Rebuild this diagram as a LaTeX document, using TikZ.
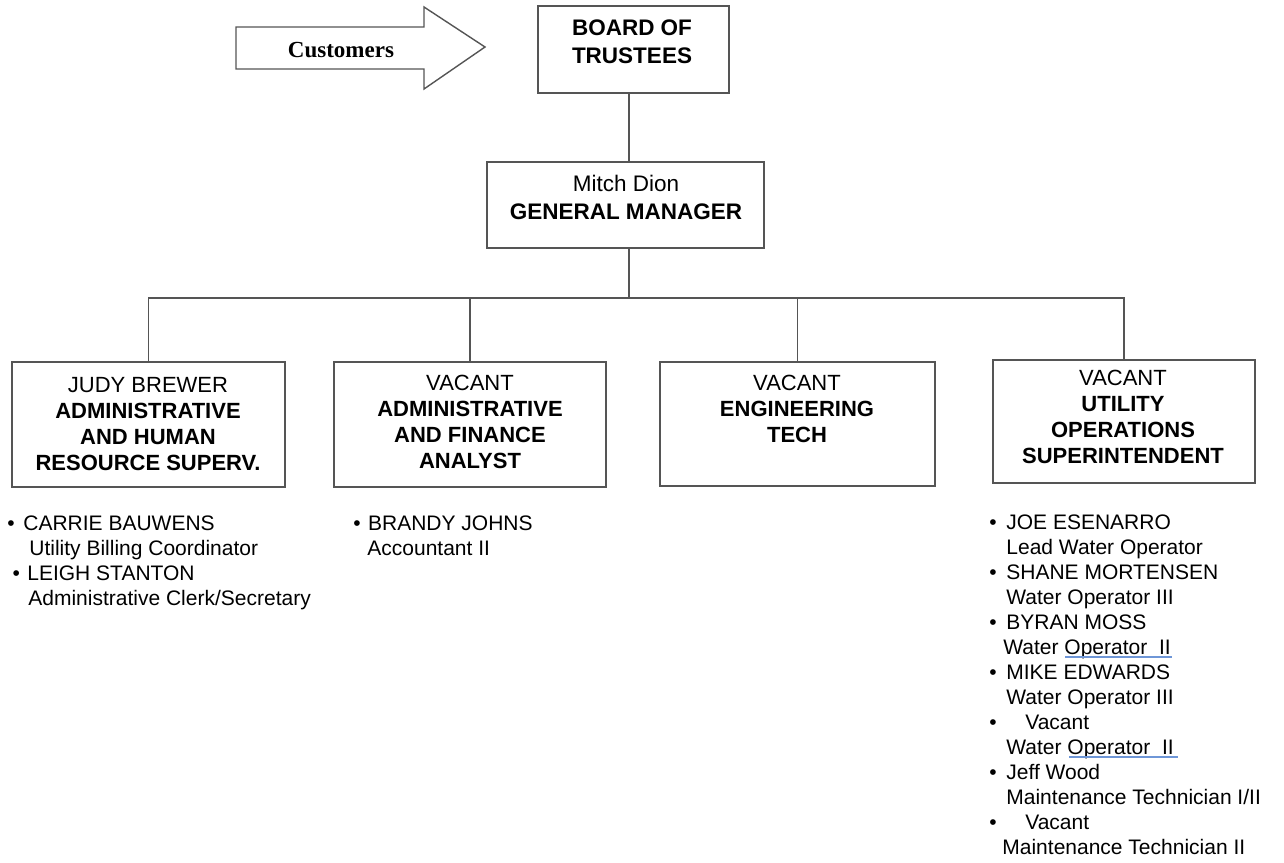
\documentclass[tikz,border=0pt]{standalone}
\usepackage{fontspec}
\setmainfont{Liberation Sans}
\newfontfamily\custfont{Liberation Serif}
\usetikzlibrary{positioning}
\definecolor{linegray}{RGB}{85,85,85}
\definecolor{spellblue}{RGB}{110,150,215}
\newcommand{\itm}{\textbullet\hspace{4.8pt}}

\begin{document}
\begin{tikzpicture}[x=0.5pt,y=-0.5pt,
  orgbox/.style={draw=linegray, line width=0.9pt, inner sep=0pt},
  toptext/.style={anchor=north, inner sep=0pt, align=center, font=\fontsize{11.25}{14}\selectfont},
  boxtext/.style={anchor=north, inner sep=0pt, align=center, font=\fontsize{11}{13}\selectfont},
  staff/.style={anchor=north west, inner sep=0pt, align=left, font=\fontsize{10.5}{12.5}\selectfont},
  link/.style={draw=linegray, line width=0.9pt}]
\useasboundingbox (0,0) rectangle (1284,862);

\draw[link, line width=0.7pt] (236,27) -- (424,27) -- (424,7) -- (485,47) -- (424,89) -- (424,69) -- (236,69) -- cycle;
\node[font=\custfont\bfseries\fontsize{11.5}{13}\selectfont] (cust) at (341,50) {Customers};

\node[orgbox, minimum width=95.5pt, minimum height=43.5pt] (bot) at (633.5,49.5) {};
\node[toptext] (bot-t) at (632,19) {\textbf{BOARD OF}\\\textbf{TRUSTEES}};

\node[orgbox, minimum width=138.5pt, minimum height=43pt] (gm) at (625.5,205) {};
\node[toptext] (gm-t) at (626,175) {Mitch Dion\\\textbf{GENERAL MANAGER}};

\node[orgbox, minimum width=136.5pt, minimum height=62.5pt] (b1) at (148.5,424.5) {};
\node[boxtext] (b1-t) at (148,377) {JUDY BREWER\\\textbf{ADMINISTRATIVE}\\\textbf{AND HUMAN}\\\textbf{RESOURCE SUPERV.}};

\node[orgbox, minimum width=136pt, minimum height=62.5pt] (b2) at (470,424.5) {};
\node[boxtext] (b2-t) at (470,375) {VACANT\\\textbf{ADMINISTRATIVE}\\\textbf{AND FINANCE}\\\textbf{ANALYST}};

\node[orgbox, minimum width=137.5pt, minimum height=62pt] (b3) at (797.5,424) {};
\node[boxtext] (b3-t) at (797,375) {VACANT\\\textbf{ENGINEERING}\\\textbf{TECH}};

\node[orgbox, minimum width=131pt, minimum height=61.5pt] (b4) at (1124,421.5) {};
\node[boxtext] (b4-t) at (1123,370) {VACANT\\\textbf{UTILITY}\\\textbf{OPERATIONS}\\\textbf{SUPERINTENDENT}};

\coordinate (spine) at (629,298);
\draw[link] (spine |- bot.south) -- (spine |- gm.north);
\draw[link] (spine |- gm.south) -- (spine);
\draw[link] (b1.north) |- (spine) -| (b4.north);
\foreach \b in {b2,b3}
  \draw[link] (\b.north) -- (\b.north |- spine);

\node[staff] (adm-staff) at (7,515) {\textbullet\hspace{4.3pt}CARRIE BAUWENS\\
  \hspace*{11pt}Utility Billing Coordinator\\
  \hspace*{2.6pt}\textbullet\hspace{3.7pt}LEIGH STANTON\\
  \hspace*{10.5pt}Administrative Clerk/Secretary};

\node[staff] (fin-staff) at (353,515) {\textbullet\hspace{3.7pt}BRANDY JOHNS\\
  \hspace*{7pt}Accountant II};

\node[staff] (ops-staff) at (989,514) {\itm JOE ESENARRO\\
  \hspace*{8.5pt}Lead Water Operator\\
  \itm SHANE MORTENSEN\\
  \hspace*{8.5pt}Water Operator III\\
  \itm BYRAN MOSS\\
  \hspace*{7pt}Water Operator\ \ II\\
  \itm MIKE EDWARDS\\
  \hspace*{8.5pt}Water Operator III\\
  \textbullet\hspace{14.3pt}Vacant\\
  \hspace*{8.5pt}Water Operator\ \ II\\
  \itm Jeff Wood\\
  \hspace*{8.5pt}Maintenance Technician I/II\\
  \textbullet\hspace{14.3pt}Vacant\\
  \hspace*{6.5pt}Maintenance Technician II};

\draw[spellblue, line width=1pt] (1065,657) -- (1172,657);
\draw[spellblue, line width=1pt] (1069,757) -- (1178,757);
\end{tikzpicture}
\end{document}
